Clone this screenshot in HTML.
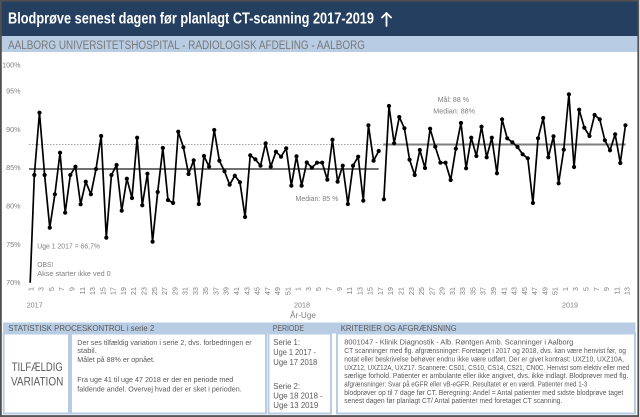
<!DOCTYPE html>
<html>
<head>
<meta charset="utf-8">
<style>
  html,body{margin:0;padding:0;background:#fff;}
  svg{display:block;}
  text{font-family:"Liberation Sans", Arial, sans-serif;}
</style>
</head>
<body>
<svg width="640" height="417" viewBox="0 0 640 417" xmlns="http://www.w3.org/2000/svg">
  <defs>
    <clipPath id="plot"><rect x="0" y="52" width="640" height="230.8"/></clipPath>
    <marker id="dot" markerWidth="6" markerHeight="6" refX="3" refY="3" markerUnits="userSpaceOnUse">
      <circle cx="3" cy="3" r="2.1" fill="#000"/>
    </marker>
  </defs>

  <rect x="0" y="0" width="640" height="417" fill="#fff"/>

  <!-- Header -->
  <rect x="1" y="1" width="637" height="35" fill="#243F60"/>
  <rect x="1" y="36" width="637" height="16" fill="#B8CCE4"/>
  <text x="8" y="23.5" font-size="15.5" font-weight="bold" fill="#fff" textLength="366" lengthAdjust="spacingAndGlyphs">Blodprøve senest dagen før planlagt CT-scanning 2017-2019</text>
  <g stroke="#fff" stroke-width="1.8" fill="none" stroke-linecap="round" stroke-linejoin="round">
    <line x1="386.5" y1="13" x2="386.5" y2="26"/>
    <polyline points="382,17.5 386.5,13 391,17.5"/>
  </g>
  <text x="8" y="49" font-size="12.3" fill="#787878" textLength="357" lengthAdjust="spacingAndGlyphs">AALBORG UNIVERSITETSHOSPITAL - RADIOLOGISK AFDELING - AALBORG</text>

  <!-- Y-axis labels -->
  <g font-size="7.2" fill="#808080" text-anchor="end">
    <text x="20.5" y="67.6">100%</text>
    <text x="20.5" y="93.6">95%</text>
    <text x="20.5" y="131.9">90%</text>
    <text x="20.5" y="170.2">85%</text>
    <text x="20.5" y="208.6">80%</text>
    <text x="20.5" y="246.9">75%</text>
    <text x="20.5" y="285.2">70%</text>
  </g>

  <!-- Target dotted line 88% -->
  <line x1="29" y1="144.5" x2="626" y2="144.5" stroke="#A6A6A6" stroke-width="1" stroke-dasharray="1.5 1.5"/>
  <!-- Median lines -->
  <line x1="29" y1="169" x2="378.7" y2="169" stroke="#404040" stroke-width="1.5"/>
  <line x1="383.3" y1="144.5" x2="625.7" y2="144.5" stroke="#7F7F7F" stroke-width="2"/>

  <!-- Data -->
  <g clip-path="url(#plot)" fill="none" stroke="#000" stroke-width="1.7" stroke-linejoin="round">
    <polyline marker-start="url(#dot)" marker-mid="url(#dot)" marker-end="url(#dot)" points="29.2,308 34.34,175 39.48,112.7 44.62,175 49.76,227.7 54.9,194.3 60.04,152.7 65.18,212.7 70.32,175 75.46,166.7 80.6,204.3 85.74,181.7 90.88,194.3 96.02,169 101.16,136 106.3,237.7 111.44,175 116.58,165 121.72,210.7 126.86,178.7 132,198 137.14,137.7 142.28,205.3 147.42,173.7 152.56,241.7 157.7,192 162.84,148 167.98,200 173.12,203 178.26,131.7 183.4,147.3 188.54,174 193.68,160.3 198.82,204 203.96,156 209.1,166.7 214.24,130 219.38,160.7 224.52,171.3 229.66,184.7 234.8,175.7 239.94,182.3 245.08,217 250.22,155.3 255.36,159.3 260.5,165.7 265.64,143.3 270.78,166.7 275.92,151.7 281.06,156.7 286.2,148.3 291.34,185.7 296.48,156.3 301.62,185.7 306.76,162.5 311.9,167.7 317.04,162.7 322.18,162.7 327.32,179.7 332.46,139.7 337.6,181.7 342.74,165.7 347.88,204 353.02,165.7 358.16,156.7 363.3,200.7 368.44,125.3 373.58,160.7 378.72,151"/>
    <polyline marker-start="url(#dot)" marker-mid="url(#dot)" marker-end="url(#dot)" points="383.86,199.3 389,106 394.14,143.3 399.28,117 404.42,128.3 409.56,159.7 414.7,175 419.84,150 424.98,168 430.12,128.7 435.26,146.7 440.4,162.7 445.54,162.7 450.68,180 455.82,148.7 460.96,123 466.1,168.3 471.24,137.7 476.38,156 481.52,126.7 486.66,157.3 491.8,137.7 496.94,173.3 502.08,119.3 507.22,138.3 512.36,142.3 517.5,147 522.64,154.3 527.78,158.3 532.92,203 538.06,138.3 543.2,118 548.34,157.3 553.48,136.3 558.62,183.3 563.76,149.7 568.9,94.3 574.04,167 579.18,109.7 584.32,127.7 589.46,136 594.6,115 599.74,119.3 604.88,140.3 610.02,150.3 615.16,134.3 620.3,163 625.44,125.3"/>
  </g>

  <!-- Chart annotations -->
  <g font-size="7.5" fill="#7F7F7F">
    <text x="37.3" y="248.3" textLength="62.7" lengthAdjust="spacingAndGlyphs">Uge 1 2017 = 66,7%</text>
    <text x="37.3" y="267" textLength="16" lengthAdjust="spacingAndGlyphs">OBS!</text>
    <text x="37.3" y="275.9" textLength="73.4" lengthAdjust="spacingAndGlyphs">Akse starter ikke ved 0</text>
    <text x="295.5" y="200.9" textLength="42.8" lengthAdjust="spacingAndGlyphs">Median: 85 %</text>
    <text x="437.7" y="101.9" textLength="31.3" lengthAdjust="spacingAndGlyphs">Mål: 88 %</text>
    <text x="433.3" y="113.6" textLength="41.7" lengthAdjust="spacingAndGlyphs">Median: 88%</text>
  </g>

  <!-- X-axis week labels -->
  <g font-size="7.3" fill="#808080" text-anchor="end">
    <text transform="translate(33.4,287) rotate(-90)">1</text>
    <text transform="translate(43.68,287) rotate(-90)">3</text>
    <text transform="translate(53.96,287) rotate(-90)">5</text>
    <text transform="translate(64.24,287) rotate(-90)">7</text>
    <text transform="translate(74.52,287) rotate(-90)">9</text>
    <text transform="translate(84.8,287) rotate(-90)">11</text>
    <text transform="translate(95.08,287) rotate(-90)">13</text>
    <text transform="translate(105.36,287) rotate(-90)">15</text>
    <text transform="translate(115.64,287) rotate(-90)">17</text>
    <text transform="translate(125.92,287) rotate(-90)">19</text>
    <text transform="translate(136.2,287) rotate(-90)">21</text>
    <text transform="translate(146.48,287) rotate(-90)">23</text>
    <text transform="translate(156.76,287) rotate(-90)">25</text>
    <text transform="translate(167.04,287) rotate(-90)">27</text>
    <text transform="translate(177.32,287) rotate(-90)">29</text>
    <text transform="translate(187.6,287) rotate(-90)">31</text>
    <text transform="translate(197.88,287) rotate(-90)">33</text>
    <text transform="translate(208.16,287) rotate(-90)">35</text>
    <text transform="translate(218.44,287) rotate(-90)">37</text>
    <text transform="translate(228.72,287) rotate(-90)">39</text>
    <text transform="translate(239,287) rotate(-90)">41</text>
    <text transform="translate(249.28,287) rotate(-90)">43</text>
    <text transform="translate(259.56,287) rotate(-90)">45</text>
    <text transform="translate(269.84,287) rotate(-90)">47</text>
    <text transform="translate(280.12,287) rotate(-90)">49</text>
    <text transform="translate(290.4,287) rotate(-90)">51</text>
    <text transform="translate(300.68,287) rotate(-90)">1</text>
    <text transform="translate(310.96,287) rotate(-90)">3</text>
    <text transform="translate(321.24,287) rotate(-90)">5</text>
    <text transform="translate(331.52,287) rotate(-90)">7</text>
    <text transform="translate(341.8,287) rotate(-90)">9</text>
    <text transform="translate(352.08,287) rotate(-90)">11</text>
    <text transform="translate(362.36,287) rotate(-90)">13</text>
    <text transform="translate(372.64,287) rotate(-90)">15</text>
    <text transform="translate(382.92,287) rotate(-90)">17</text>
    <text transform="translate(393.2,287) rotate(-90)">19</text>
    <text transform="translate(403.48,287) rotate(-90)">21</text>
    <text transform="translate(413.76,287) rotate(-90)">23</text>
    <text transform="translate(424.04,287) rotate(-90)">25</text>
    <text transform="translate(434.32,287) rotate(-90)">27</text>
    <text transform="translate(444.6,287) rotate(-90)">29</text>
    <text transform="translate(454.88,287) rotate(-90)">31</text>
    <text transform="translate(465.16,287) rotate(-90)">33</text>
    <text transform="translate(475.44,287) rotate(-90)">35</text>
    <text transform="translate(485.72,287) rotate(-90)">37</text>
    <text transform="translate(496,287) rotate(-90)">39</text>
    <text transform="translate(506.28,287) rotate(-90)">41</text>
    <text transform="translate(516.56,287) rotate(-90)">43</text>
    <text transform="translate(526.84,287) rotate(-90)">45</text>
    <text transform="translate(537.12,287) rotate(-90)">47</text>
    <text transform="translate(547.4,287) rotate(-90)">49</text>
    <text transform="translate(557.68,287) rotate(-90)">51</text>
    <text transform="translate(567.96,287) rotate(-90)">1</text>
    <text transform="translate(578.24,287) rotate(-90)">3</text>
    <text transform="translate(588.52,287) rotate(-90)">5</text>
    <text transform="translate(598.8,287) rotate(-90)">7</text>
    <text transform="translate(609.08,287) rotate(-90)">9</text>
    <text transform="translate(619.36,287) rotate(-90)">11</text>
    <text transform="translate(629.64,287) rotate(-90)">13</text>
  </g>

  <!-- Year labels -->
  <g font-size="7.5" fill="#808080">
    <text x="26.7" y="307.6" textLength="16" lengthAdjust="spacingAndGlyphs">2017</text>
    <text x="294" y="307.6" textLength="16" lengthAdjust="spacingAndGlyphs">2018</text>
    <text x="562" y="307.6" textLength="16" lengthAdjust="spacingAndGlyphs">2019</text>
    <text x="290" y="318.2" font-size="8.5" textLength="26" lengthAdjust="spacingAndGlyphs">År-Uge</text>
  </g>

  <!-- Bottom panel -->
  <rect x="3" y="322.5" width="632.5" height="11" fill="#B8CCE4"/>
  <g font-size="8.5" fill="#595959">
    <text x="8.3" y="331" textLength="146" lengthAdjust="spacingAndGlyphs">STATISTISK PROCESKONTROL i serie 2</text>
    <text x="272.7" y="331" textLength="31.3" lengthAdjust="spacingAndGlyphs">PERIODE</text>
    <text x="340.7" y="331" textLength="116" lengthAdjust="spacingAndGlyphs">KRITERIER OG AFGRÆNSNING</text>
  </g>
  <g fill="#fff" stroke="#B8CCE4" stroke-width="2">
    <rect x="3.7" y="333.5" width="65.3" height="80"/>
    <rect x="71" y="333.5" width="195" height="80"/>
    <rect x="268.5" y="333.5" width="62.5" height="80"/>
    <rect x="337" y="333.5" width="298" height="80"/>
  </g>

  <g fill="#595959">
    <text x="11.7" y="371.1" font-size="11.5" textLength="51" lengthAdjust="spacingAndGlyphs">TILFÆLDIG</text>
    <text x="11" y="385.4" font-size="11.5" textLength="52.3" lengthAdjust="spacingAndGlyphs">VARIATION</text>
  </g>

  <g font-size="7" fill="#595959">
    <text x="77.3" y="344.8" textLength="174.4" lengthAdjust="spacingAndGlyphs">Der ses tilfældig variation i serie 2, dvs. forbedringen er</text>
    <text x="77.3" y="352.8" textLength="19.5" lengthAdjust="spacingAndGlyphs">stabil.</text>
    <text x="77.3" y="361.8" textLength="77.7" lengthAdjust="spacingAndGlyphs">Målet på 88% er opnået.</text>
    <text x="77.3" y="382.2" textLength="156" lengthAdjust="spacingAndGlyphs">Fra uge 41 til uge 47 2018 er der en periode med</text>
    <text x="77.3" y="391.5" textLength="164.4" lengthAdjust="spacingAndGlyphs">faldende andel. Overvej hvad der er sket i perioden.</text>
  </g>

  <g font-size="7.8" fill="#595959">
    <text x="273.3" y="345.1" textLength="26.7" lengthAdjust="spacingAndGlyphs">Serie 1:</text>
    <text x="273.3" y="355.1" textLength="42.7" lengthAdjust="spacingAndGlyphs">Uge 1 2017 -</text>
    <text x="273.3" y="365.1" textLength="44" lengthAdjust="spacingAndGlyphs">Uge 17 2018</text>
    <text x="273.3" y="389.1" textLength="26.7" lengthAdjust="spacingAndGlyphs">Serie 2:</text>
    <text x="273.3" y="398.5" textLength="49.4" lengthAdjust="spacingAndGlyphs">Uge 18 2018 -</text>
    <text x="273.3" y="408.1" textLength="45" lengthAdjust="spacingAndGlyphs">Uge 13 2019</text>
  </g>

  <g font-size="7" fill="#595959">
    <text x="344.3" y="344.5" textLength="229" lengthAdjust="spacingAndGlyphs">8001047 - Klinik Diagnostik - Alb. Røntgen Amb. Scanninger i Aalborg</text>
    <text x="344.3" y="353.2" textLength="281.7" lengthAdjust="spacingAndGlyphs">CT scanninger med flg. afgrænsninger: Foretaget i 2017 og 2018, dvs. kan være henvist før, og</text>
    <text x="344.3" y="361.5" textLength="279.7" lengthAdjust="spacingAndGlyphs">notat eller beskrivelse behøver endnu ikke være udført. Der er givet kontrast: UXZ10, UXZ10A,</text>
    <text x="344.3" y="369.8" textLength="285" lengthAdjust="spacingAndGlyphs">UXZ12, UXZ12A, UXZ17. Scannere: CS01, CS10, CS14, CS21, CN0C. Henvist som elektiv eller med</text>
    <text x="344.3" y="378.2" textLength="284" lengthAdjust="spacingAndGlyphs">særlige forhold. Patienter er ambulante eller ikke angivet, dvs. ikke indlagt. Blodprøver med flg.</text>
    <text x="344.3" y="386.5" textLength="243" lengthAdjust="spacingAndGlyphs">afgrænsninger: Svar på eGFR eller vB-eGFR. Resultatet er en værdi. Patienter med 1-3</text>
    <text x="344.3" y="394.8" textLength="279" lengthAdjust="spacingAndGlyphs">blodprøver op til 7 dage før CT. Beregning: Andel = Antal patienter med sidste blodprøve taget</text>
    <text x="344.3" y="403.2" textLength="218" lengthAdjust="spacingAndGlyphs">senest dagen før planlagt CT/ Antal patienter med foretaget CT scanning.</text>
  </g>

  <!-- Outer frame -->
  <rect x="0.9" y="0.75" width="637.4" height="415.3" fill="none" stroke="#505050" stroke-width="1.8"/>
</svg>
</body>
</html>
